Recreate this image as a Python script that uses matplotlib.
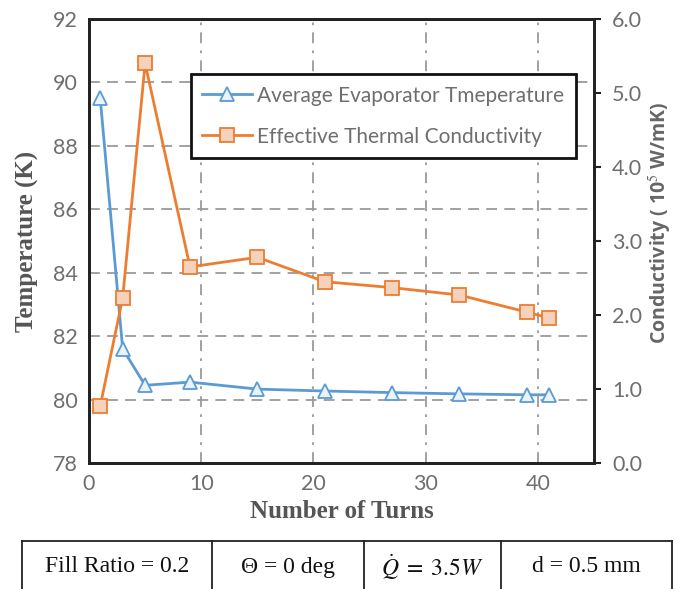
import matplotlib
matplotlib.use("Agg")
import matplotlib.pyplot as plt
from matplotlib.lines import Line2D

turns = [1, 3, 5, 9, 15, 21, 27, 33, 39, 41]
temperature = [89.5, 81.6, 80.45, 80.55, 80.33, 80.27, 80.22, 80.18, 80.15, 80.15]
conductivity = [0.77, 2.23, 5.4, 2.65, 2.78, 2.45, 2.37, 2.27, 2.04, 1.96]
temp_label = "Average Evaporator Tmeperature"
cond_label = "Effective Thermal Conductivity"
table_texts = ["Fill Ratio = 0.2", "Θ = 0 deg", r"$\dot{Q}\;=\;3.5W$", "d = 0.5 mm"]

plt.rcParams["mathtext.fontset"] = "stix"

W, H = 681, 589
fig = plt.figure(figsize=(W / 100, H / 100), dpi=100)

def fx(px):
    return px / W

def fy(py):
    return 1 - py / H

ax_l, ax_r, ax_t, ax_b = 89, 594, 19, 463
ax = fig.add_axes([fx(ax_l), fy(ax_b), fx(ax_r - ax_l), (ax_b - ax_t) / H])
ax2 = ax.twinx()

blue = "#5B9BD5"
orange = "#ED7D31"
gray = "#6e6e6e"

ax.set_xlim(0, 45)
ax.set_ylim(78, 92)
ax2.set_ylim(0, 6)
ax.set_xticks([0, 10, 20, 30, 40])
ax.set_yticks(range(78, 93, 2))
ax2.set_yticks([0, 1, 2, 3, 4, 5, 6])
ax2.set_yticklabels([f"{v:.1f}" for v in [0, 1, 2, 3, 4, 5, 6]])

# grid
for yv in range(80, 92, 2):
    ax.axhline(yv, color="#9a9a9a", lw=1.3, ls=(0, (6, 4)), zorder=0)
for xv in [10, 20, 30, 40]:
    ax.axvline(xv, color="#9a9a9a", lw=1.3, ls=(0, (6, 4, 1.5, 4)), zorder=0)

ax.plot(turns, temperature, color=blue, lw=2.0, marker="^", ms=10,
        mfc="#eaf2fb", mec=blue, mew=1.3, zorder=3)
ax2.plot(turns, conductivity, color=orange, lw=2.0, marker="s", ms=9.5,
         mfc="#f6d2bd", mec=orange, mew=1.3, zorder=3)

for a in (ax, ax2):
    for sp in a.spines.values():
        sp.set_linewidth(2.0)
        sp.set_color("#222222")
    a.tick_params(labelcolor=gray, labelsize=15.5)
ax.tick_params(axis="both", length=0, pad=8)
ax2.tick_params(axis="y", length=5, width=1.5, color="#222222", pad=8, direction="out")
for lab in ax.get_xticklabels() + ax.get_yticklabels() + ax2.get_yticklabels():
    lab.set_fontfamily("Lato")

ax.set_xlabel("Number of Turns", family="Liberation Serif", fontweight="bold",
              fontsize=18, color="#555555", labelpad=4)
ax.set_ylabel("Temperature (K)", family="Liberation Serif", fontweight="bold",
              fontsize=18, color="#555555", labelpad=10)
ax2.set_ylabel("Conductivity ( 10$^5$ W/mK)", family="Open Sans", fontweight="bold",
               fontsize=14, color="#666666")
ax2.yaxis.set_label_coords(1.105, 0.54)

handles = [
    Line2D([], [], color=blue, lw=2.0, marker="^", ms=10, mfc="#eaf2fb", mec=blue, mew=1.3),
    Line2D([], [], color=orange, lw=2.0, marker="s", ms=9.5, mfc="#f6d2bd", mec=orange, mew=1.3),
]
leg = ax.legend(handles, [temp_label, cond_label], loc="upper right",
                bbox_to_anchor=(0.972, 0.885), frameon=True, fancybox=False,
                framealpha=1, edgecolor="#111111", handlelength=2.4,
                borderpad=0.55, labelspacing=1.0, handletextpad=0.25,
                borderaxespad=0.2,
                prop=dict(family="Lato", size=15))
leg.get_frame().set_linewidth(2.0)
for t in leg.get_texts():
    t.set_color(gray)
leg.set_zorder(5)

# parameter table at bottom (pixel coords)
tab = fig.add_axes([0, 0, 1, 1], facecolor="none")
tab.set_xlim(0, W)
tab.set_ylim(H, 0)
tab.axis("off")
cols = [22, 212, 364, 501, 672]
top, bot = 541, 592
lw = 1.3
tab.plot([cols[0], cols[-1]], [top, top], color="#222222", lw=lw, clip_on=False)
for c in cols:
    tab.plot([c, c], [top, bot], color="#222222", lw=lw, clip_on=False)
for i, txt in enumerate(table_texts):
    cx = (cols[i] + cols[i + 1]) / 2
    tab.text(cx, 567, txt, ha="center", va="center", family="Liberation Serif",
             fontsize=17, color="#111111")

fig.savefig("out.png", dpi=100)
